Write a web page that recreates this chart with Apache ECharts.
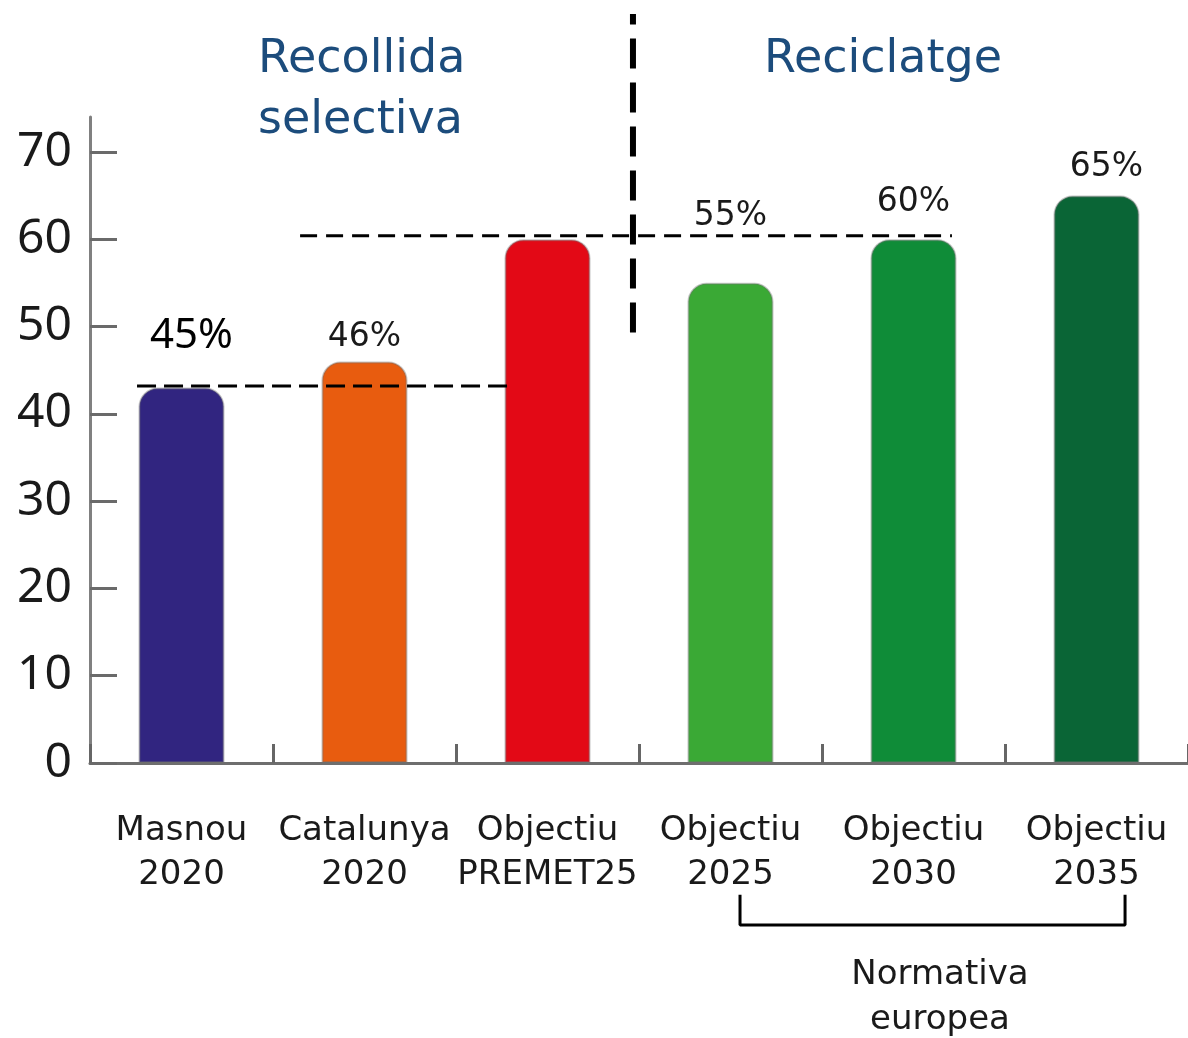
<!DOCTYPE html>
<html>
<head>
<meta charset="utf-8">
<script src="https://cdn.jsdelivr.net/npm/echarts@6/dist/echarts.min.js"></script>
<style>
html,body{margin:0;padding:0;background:#fff;}
#chart{width:1188px;height:1038px;}
</style>
</head>
<body>
<div id="chart"></div>
<script>
// ---- data ----
const categories = ['Masnou\n2020', 'Catalunya\n2020', 'Objectiu\nPREMET25', 'Objectiu\n2025', 'Objectiu\n2030', 'Objectiu\n2035'];
const values = [43, 46, 60, 55, 60, 65];
const valueLabels = ['45%', '46%', '', '55%', '60%', '65%'];
const yTicks = [0, 10, 20, 30, 40, 50, 60, 70];
const collectionLine = [[0.257, 43.2], [2.306, 43.2]];
const recyclingLine = [[1.148, 60.4], [4.71, 60.4]];
const dividerLine = [[2.967, 49.3], [2.967, 85.8]];
const bracketLine = [[3.552, -15.1], [3.552, -18.55], [5.656, -18.55], [5.656, -15.1]];
const sectionTitles = ['Recollida\nselectiva', 'Reciclatge'];
const bracketTitle = 'Normativa\neuropea';

// ---- styles ----
const barColors = ['#312580', '#e85c0f', '#e30916', '#3aa935', '#0f8c38', '#0a6536'];
const labelCfg = [
  {d: 31, dx: 10, big: true},
  {d: 8, dx: 0},
  {d: 0, dx: 0},
  {d: 50, dx: 0},
  {d: 20, dx: 0},
  {d: 12, dx: 10}
];

const chart = echarts.init(document.getElementById('chart'), null, {renderer: 'canvas'});

const barData = values.map((v, i) => ({
  value: v,
  itemStyle: {color: barColors[i]},
  label: {
    show: valueLabels[i] !== '',
    position: 'top',
    distance: labelCfg[i].d,
    offset: [labelCfg[i].dx, 0],
    fontFamily: labelCfg[i].big ? 'Noto Sans' : 'DejaVu Sans',
    fontSize: labelCfg[i].big ? 42 : 33,
    color: labelCfg[i].big ? '#000' : '#1a1a1a'
  }
}));

const dashedSeries = (data, width, dash, z) => ({
  type: 'line',
  xAxisIndex: 1,
  yAxisIndex: 0,
  data: data,
  clip: false,
  symbol: 'none',
  silent: true,
  z: z,
  lineStyle: {color: '#000', width: width, type: dash}
});

const option = {
  animation: false,
  backgroundColor: '#fff',
  grid: {left: 90, right: 0, top: 117, bottom: 275, containLabel: false},
  xAxis: [
    {
      type: 'category',
      data: categories,
      axisLine: {lineStyle: {color: '#6e6e6e', width: 3}},
      axisTick: {show: true, interval: 0, inside: true, length: 19, lineStyle: {color: '#666', width: 3}},
      axisLabel: {
        interval: 0,
        margin: 46,
        fontFamily: 'DejaVu Sans',
        fontSize: 34,
        lineHeight: 44,
        color: '#1a1a1a'
      },
      splitLine: {show: false}
    },
    {
      type: 'value',
      min: 0,
      max: 6,
      show: false
    }
  ],
  yAxis: {
    type: 'value',
    min: 0,
    max: 74,
    interval: 10,
    axisLine: {show: true, lineStyle: {color: '#808080', width: 3}},
    axisTick: {show: true, inside: true, length: 27, customValues: yTicks, lineStyle: {color: '#6a6a6a', width: 3}},
    axisLabel: {
      customValues: yTicks,
      margin: 18,
      fontFamily: 'Noto Sans',
      fontSize: 48,
      color: '#1a1a1a'
    },
    splitLine: {show: false}
  },
  series: [
    {
      type: 'bar',
      data: barData,
      barWidth: 86,
      z: 2,
      itemStyle: {
        borderRadius: [18, 18, 0, 0],
        borderColor: 'rgba(110,110,110,0.4)',
        borderWidth: 2
      },
      label: {
        show: true,
        formatter: p => valueLabels[p.dataIndex]
      }
    },
    dashedSeries(collectionLine, 3, [19, 8], 5),
    dashedSeries(recyclingLine, 3, [17, 9], 5),
    dashedSeries(dividerLine, 6, [30, 14], 6),
    {
      type: 'line',
      xAxisIndex: 1,
      yAxisIndex: 0,
      data: bracketLine,
      clip: false,
      symbol: 'none',
      silent: true,
      z: 5,
      lineStyle: {color: '#000', width: 3}
    }
  ],
  graphic: [
    {
      type: 'text', x: 258, y: 30,
      style: {text: sectionTitles[0], fontFamily: 'DejaVu Sans', fontSize: 46, lineHeight: 61, fill: '#1c4c7c', align: 'left', verticalAlign: 'top'}
    },
    {
      type: 'text', x: 764, y: 30,
      style: {text: sectionTitles[1], fontFamily: 'DejaVu Sans', fontSize: 46, lineHeight: 61, fill: '#1c4c7c', align: 'left', verticalAlign: 'top'}
    },
    {
      type: 'text', x: 940, y: 953,
      style: {text: bracketTitle, fontFamily: 'DejaVu Sans', fontSize: 34, lineHeight: 45, fill: '#1a1a1a', align: 'center', verticalAlign: 'top'}
    }
  ]
};

chart.setOption(option);
</script>
</body>
</html>
